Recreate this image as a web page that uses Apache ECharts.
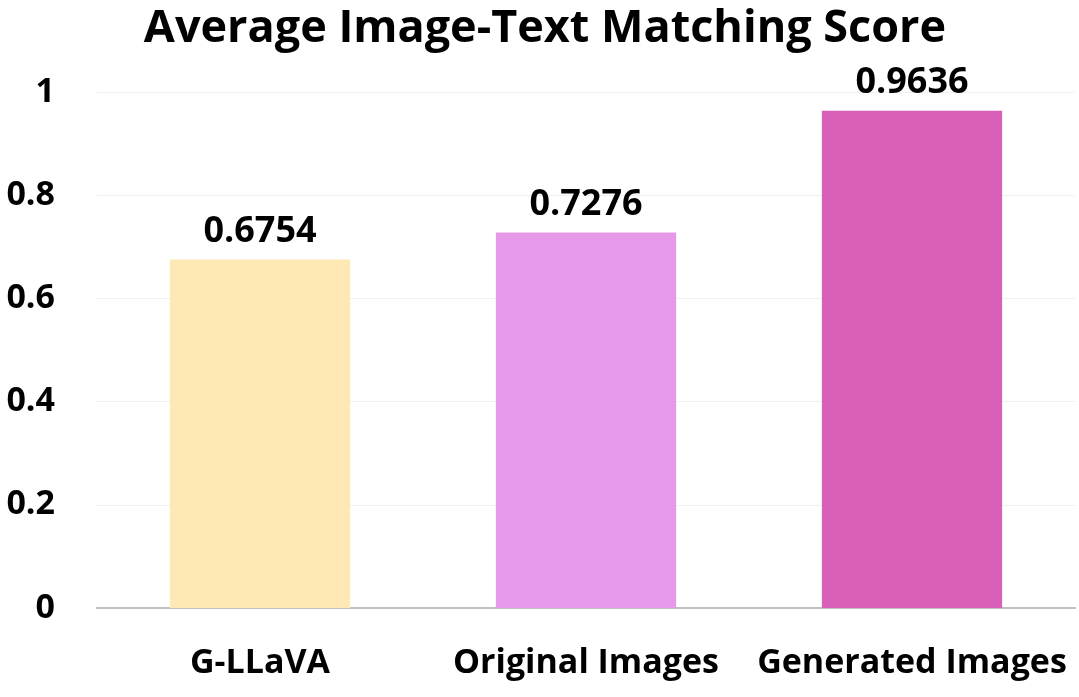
<!DOCTYPE html>
<html><head><meta charset="utf-8">
<script src="https://cdn.jsdelivr.net/npm/echarts@6/dist/echarts.min.js"></script>
<style>html,body{margin:0;padding:0;background:#fff}#c{width:1079px;height:697px}</style>
</head><body><div id="c"></div>
<script>
const categories = ['G-LLaVA', 'Original Images', 'Generated Images'];
const scores = [0.6754, 0.7276, 0.9636];
const barColors = ['#FEE9B4', '#E699E8', '#D860B8'];
const yTicks = [0, 0.2, 0.4, 0.6, 0.8, 1];
const FONT = '"Open Sans", sans-serif';
const chart = echarts.init(document.getElementById('c'), null, {renderer: 'canvas'});
chart.setOption({
  animation: false,
  backgroundColor: '#fff',
  title: {
    text: 'Average Image-Text Matching Score',
    left: 540, top: 2, textAlign: 'center',
    textStyle: {fontFamily: FONT, fontWeight: 'bold', fontSize: 45, color: '#000'}
  },
  grid: {left: 97, right: 4, top: 92, bottom: 89},
  xAxis: {
    type: 'category', data: categories,
    axisLine: {lineStyle: {color: '#BFBFBF', width: 2}},
    axisTick: {show: false},
    axisLabel: {interval: 0, margin: 38, fontFamily: FONT, fontWeight: 'bold', fontSize: 34, color: '#000'}
  },
  yAxis: {
    type: 'value', min: 0, max: 1, interval: 0.2,
    axisLine: {show: false}, axisTick: {show: false},
    splitLine: {lineStyle: {color: '#F0F0F0', width: 1}},
    axisLabel: {margin: 42, fontFamily: FONT, fontWeight: 'bold', fontSize: 34, color: '#000',
      formatter: v => yTicks.includes(+v.toFixed(1)) ? String(+v.toFixed(1)) : ''}
  },
  series: [{
    type: 'bar', barWidth: '55.3%',
    data: scores.map((v, i) => ({value: v, itemStyle: {color: barColors[i]}})),
    label: {show: true, position: 'top', distance: 10, fontFamily: FONT, fontWeight: 'bold', fontSize: 36, color: '#000',
      formatter: p => p.value.toFixed(4)}
  }]
});
</script></body></html>
